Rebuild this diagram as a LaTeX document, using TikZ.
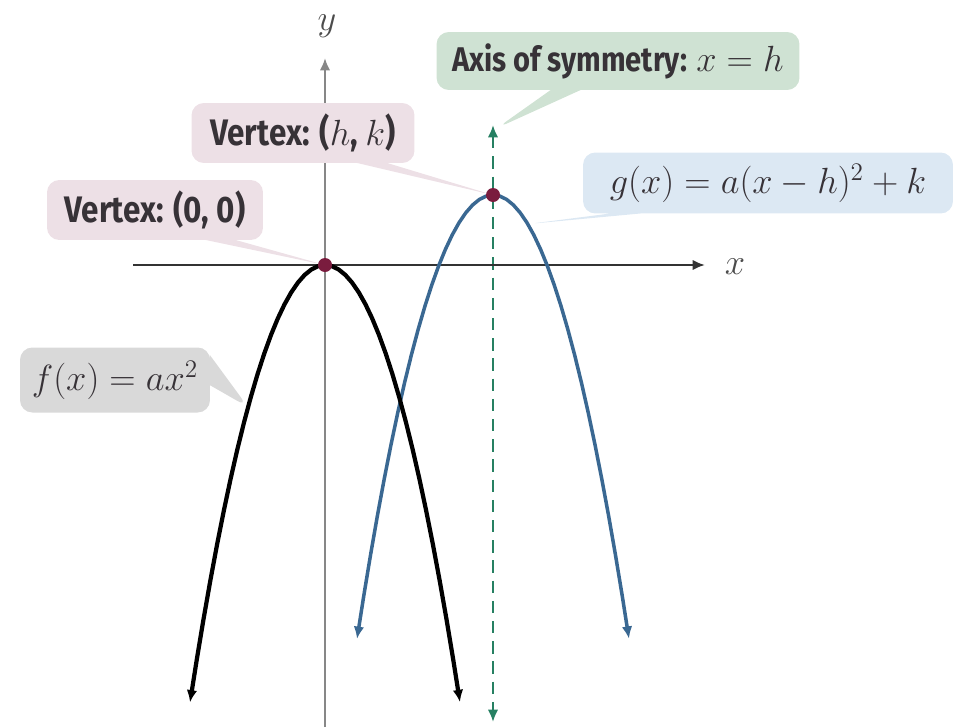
\documentclass[tikz,border=0pt]{standalone}
\usepackage{fontspec}
\newfontfamily\tagfont[FakeStretch=0.85]{Fira Sans}
\definecolor{tagPink}{RGB}{237,224,230}
\definecolor{tagGreen}{RGB}{207,226,211}
\definecolor{tagBlue}{RGB}{220,232,243}
\definecolor{tagGray}{RGB}{217,217,217}
\definecolor{tagText}{RGB}{55,50,55}
\definecolor{curveBlue}{RGB}{58,104,146}
\definecolor{axisTeal}{RGB}{38,128,98}
\definecolor{axisGray}{RGB}{135,135,135}
\definecolor{vertexRed}{RGB}{122,28,62}
\usepackage{tikz}
\usetikzlibrary{arrows.meta, shapes.callouts}

\tikzset{
  tag/.style={rectangle callout, rounded corners=7pt, inner sep=3pt,
    callout pointer width=0.6cm, text=tagText,
    font=\fontsize{21}{24}\selectfont\tagfont\bfseries},
  mathtag/.style={tag, font=\fontsize{21}{24}\selectfont},
}

\begin{document}
\begin{tikzpicture}[x=0.02cm, y=-0.02cm, >={Latex[length=7pt,width=6pt]}]
    \useasboundingbox (0,0) rectangle (960,727);

    % points the tags point at
    \coordinate (origin) at (325,265);
    \coordinate (vertex) at (493,195);
    \coordinate (symtop) at (497,128);
    \coordinate (gpt) at (528,224);
    \coordinate (fpt) at (248,407);

    % axes and axis of symmetry
    \draw[axisTeal, line width=1.3pt, dash pattern=on 7pt off 4.5pt, <->] (493,125) -- (493,722);
    \draw[axisGray, line width=1.7pt, ->] (325,727) -- (325,58);
    \draw[black!80, line width=1.6pt, ->] (133,265) -- (705,265);
    \node[font=\fontsize{20}{24}\selectfont, text=black!70] (ylbl) at (327,26) {$y$};
    \node[font=\fontsize{20}{24}\selectfont, text=black!70] (xlbl) at (735,267) {$x$};

    % tags
    \node[tag, fill=tagPink, minimum width=4.32cm, minimum height=1.2cm,
      callout absolute pointer={(origin)}] (tagorigin) at (155,210) {Vertex: (0, 0)};
    \node[tag, fill=tagPink, minimum width=4.46cm, minimum height=1.2cm,
      callout absolute pointer={(vertex)}] (tagvertex) at (303,133) {Vertex: ($h$, $k$)};
    \node[tag, fill=tagGreen, minimum width=7.26cm, minimum height=1.16cm,
      font=\fontsize{19.5}{23}\selectfont\tagfont\bfseries,
      callout absolute pointer={(symtop)}] (tagsym) at (618,61) {Axis of symmetry: $x = h$};
    \node[mathtag, fill=tagBlue, minimum width=7.4cm, minimum height=1.22cm,
      font=\fontsize{22}{26}\selectfont,
      callout absolute pointer={(gpt)}] (tagg) at (768,183) {$g(x) = a(x - h)^2 + k$};
    \node[mathtag, fill=tagGray, minimum width=3.8cm, minimum height=1.3cm,
      callout absolute pointer={(fpt)}] (tagf) at (115,380) {$f(x) = ax^2$};

    % the two parabolas
    \draw[curveBlue, line width=2pt, <->] plot[domain=-1.36:1.36, samples=41] ({493+100*\x},{195+240*\x*\x});
    \draw[black, line width=2.4pt, <->] plot[domain=-1.35:1.35, samples=41] ({325+100*\x},{265+240*\x*\x});

    \fill[vertexRed] (origin) circle (7);
    \fill[vertexRed] (vertex) circle (7);
\end{tikzpicture}
\end{document}
